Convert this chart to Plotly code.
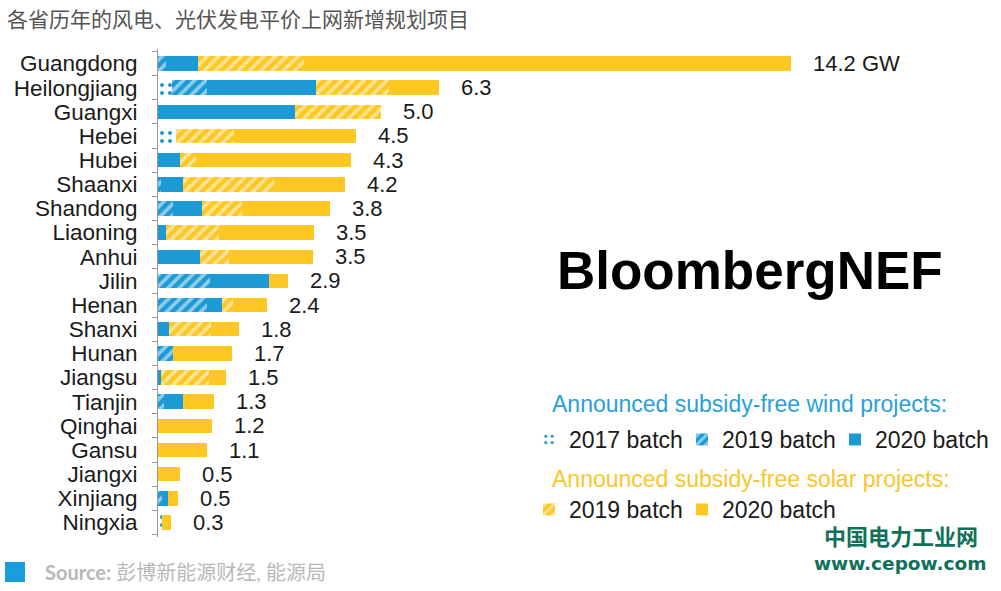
import plotly.graph_objects as go

provinces = ["Guangdong", "Heilongjiang", "Guangxi", "Hebei", "Hubei", "Shaanxi", "Shandong",
             "Liaoning", "Anhui", "Jilin", "Henan", "Shanxi", "Hunan", "Jiangsu", "Tianjin",
             "Qinghai", "Gansu", "Jiangxi", "Xinjiang", "Ningxia"]
wind_2017 = [0, 0.31, 0, 0.40, 0, 0, 0, 0, 0, 0, 0, 0, 0, 0, 0, 0, 0, 0, 0, 0.10]
wind_2019 = [0.17, 0.79, 0, 0, 0, 0.07, 0.34, 0, 0, 1.17, 1.09, 0, 0.34, 0, 0.13, 0, 0, 0, 0.08, 0]
wind_2020 = [0.72, 2.45, 3.07, 0, 0.49, 0.49, 0.64, 0.18, 0.94, 1.32, 0.34, 0.24, 0, 0.06, 0.42, 0, 0, 0, 0.15, 0]
solar_2019 = [2.38, 1.64, 1.93, 1.31, 0.36, 2.05, 0.90, 1.18, 0.66, 0, 0.26, 0.94, 0, 1.09, 0, 0, 0, 0, 0, 0]
solar_2020 = [10.92, 1.12, 0, 2.74, 3.49, 1.59, 1.97, 2.15, 1.88, 0.42, 0.75, 0.64, 1.31, 0.37, 0.70, 1.21, 1.09, 0.49, 0.22, 0.19]
total_labels = ["14.2 GW", "6.3", "5.0", "4.5", "4.3", "4.2", "3.8", "3.5", "3.5", "2.9",
                "2.4", "1.8", "1.7", "1.5", "1.3", "1.2", "1.1", "0.5", "0.5", "0.3"]
wind_title = "Announced subsidy-free wind projects:"
solar_title = "Announced subsidy-free solar projects:"

BLUE = "#1b9ad6"
YELLOW = "#fec722"
W, H = 1001, 591
L, R, T, B = 158, 0, 49, 54
PW, PH = W - L - R, H - T - B
PX_PER_GW = 44.58


def px(x):
    return (x - L) / PW


def py(y):
    return (H - B - y) / PH


FONT = "Liberation Sans, Arial, sans-serif"
CJK = "Noto Sans CJK SC"

fig = go.Figure()
series = [
    ("2017 batch", wind_2017, BLUE, dict(shape=".", fillmode="replace", bgcolor="white", fgcolor=BLUE, size=8, solidity=0.2), "legend"),
    ("2019 batch", wind_2019, BLUE, dict(shape="/", fillmode="overlay", fgcolor="white", size=8, solidity=0.45), "legend"),
    ("2020 batch", wind_2020, BLUE, dict(shape=""), "legend"),
    ("2019 batch", solar_2019, YELLOW, dict(shape="/", fillmode="overlay", fgcolor="white", size=8, solidity=0.45), "legend2"),
    ("2020 batch", solar_2020, YELLOW, dict(shape=""), "legend2"),
]
for name, vals, col, pat, leg in series:
    fig.add_trace(go.Bar(
        y=provinces, x=vals, orientation="h", name=name,
        marker=dict(color=col, line=dict(width=0), pattern=pat),
        legend=leg, hoverinfo="skip",
    ))

totals = [sum(v) for v in zip(wind_2017, wind_2019, wind_2020, solar_2019, solar_2020)]
for p, t, lab in zip(provinces, totals, total_labels):
    fig.add_annotation(x=t, y=p, text=lab, showarrow=False, xanchor="left", xshift=20,
                       font=dict(family=FONT, size=22, color="#1a1a1a"))

fig.add_annotation(xref="paper", yref="paper", x=px(555), y=py(270), text="<b>BloombergNEF</b>",
                   showarrow=False, xanchor="left", yanchor="middle",
                   font=dict(family=FONT, size=53, color="black"))
fig.add_annotation(xref="paper", yref="paper", x=px(550), y=py(404), text=wind_title,
                   showarrow=False, xanchor="left", yanchor="middle",
                   font=dict(family=FONT, size=23, color="#2aa0da"))
fig.add_annotation(xref="paper", yref="paper", x=px(550), y=py(479), text=solar_title,
                   showarrow=False, xanchor="left", yanchor="middle",
                   font=dict(family=FONT, size=23, color="#f9c62c"))
fig.add_annotation(xref="paper", yref="paper", x=px(901), y=py(535), text="<b>中国电力工业网</b>",
                   showarrow=False, xanchor="center", yanchor="middle",
                   font=dict(family=CJK, size=22, color="#11705a"))
fig.add_annotation(xref="paper", yref="paper", x=px(900), y=py(563), text="<b>www.cepow.com</b>",
                   showarrow=False, xanchor="center", yanchor="middle",
                   font=dict(family="DejaVu Sans", size=18.5, color="#11705a"))
fig.add_annotation(xref="paper", yref="paper", x=px(43), y=py(572),
                   text="<b>Source:</b> 彭博新能源财经, 能源局",
                   showarrow=False, xanchor="left", yanchor="middle",
                   font=dict(family="Lato, " + CJK, size=20, color="#b8b8b8"))
fig.add_shape(type="rect", xref="paper", yref="paper", x0=px(5), x1=px(25), y0=py(582), y1=py(562),
              fillcolor="#1a9ddb", line=dict(width=0))

legend_common = dict(orientation="h", xanchor="left", yanchor="top",
                     font=dict(family=FONT, size=23, color="#1a1a1a"), bgcolor="rgba(0,0,0,0)",
                     entrywidth=108, entrywidthmode="pixels", traceorder="normal",
                     borderwidth=0, tracegroupgap=0)

fig.update_layout(
    width=W, height=H, margin=dict(l=L, r=R, t=T, b=B, autoexpand=False),
    paper_bgcolor="white", plot_bgcolor="white",
    barmode="stack", bargap=0.4,
    title=dict(text="各省历年的风电、光伏发电平价上网新增规划项目", xref="container", yref="container",
               x=7 / W, y=1 - 20 / H, xanchor="left", yanchor="middle",
               font=dict(family=CJK, size=21, color="#555555")),
    xaxis=dict(range=[0, PW / PX_PER_GW], showgrid=False, zeroline=False, showticklabels=False,
               showline=False, ticks="", automargin=False),
    yaxis=dict(autorange="reversed", showline=True, linecolor="#999999", linewidth=1,
               tickmode="array", tickvals=provinces, ticktext=provinces,
               ticks="outside", tickson="boundaries", ticklen=5, tickcolor="#999999",
               ticklabelstandoff=15, showgrid=False, zeroline=False, automargin=False,
               tickfont=dict(family=FONT, size=22.5, color="#1a1a1a")),
    legend=dict(x=px(529), y=py(418), **legend_common),
    legend2=dict(x=px(529), y=py(488), **legend_common),
    showlegend=True,
)

fig.write_html("out.html", post_script="document.body.style.margin='0';",
               config={"displayModeBar": False})
